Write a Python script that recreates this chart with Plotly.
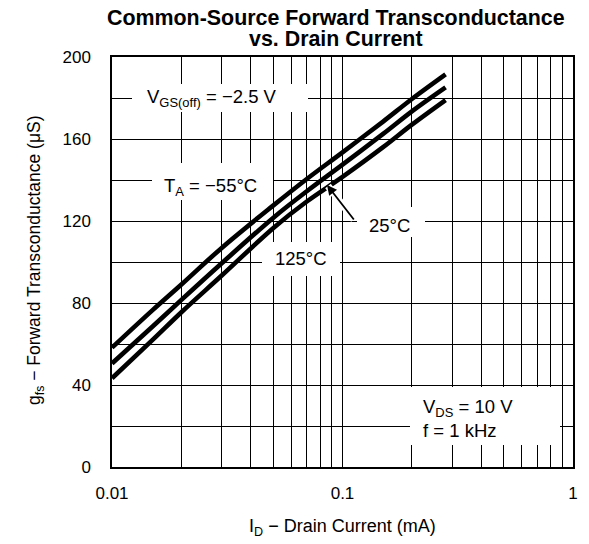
import plotly.graph_objects as go

# ---- data (I_D in mA, g_fs in uS) ----
id_ma = [0.01, 0.015, 0.02, 0.03, 0.05, 0.07, 0.1, 0.15, 0.2, 0.28]
gfs_m55 = [58.2, 76.5, 89.0, 107.0, 127.5, 140.5, 153.5, 168.5, 179.5, 191.5]
gfs_25 = [50.5, 68.5, 81.5, 99.5, 121.5, 134.5, 147.5, 162.5, 173.5, 185.2]
gfs_125 = [43.3, 62.0, 75.5, 93.5, 116.5, 129.5, 141.5, 156.0, 167.0, 179.0]

x_decades = [0.01, 0.1, 1]
x_tick_labels = ["0.01", "0.1", "1"]
y_grid = list(range(0, 201, 20))
y_tick_labels = [str(v) if v % 40 == 0 else "" for v in y_grid]

# ---- layout geometry ----
W, H = 589, 544
L, R, T, B = 112, 16, 57, 77
PW, PH = W - L - R, H - T - B
FONT = "Liberation Sans, Arial, sans-serif"


def px(xp):
    return (xp - L) / PW


def py(yp):
    return (T + PH - yp) / PH


# log grid positions (1..9 in each decade)
x_grid = []
x_text = []
for d, lab in zip(x_decades[:-1], x_tick_labels[:-1]):
    for k in range(1, 10):
        x_grid.append(d * k)
        x_text.append(lab if k == 1 else "")
x_grid.append(x_decades[-1])
x_text.append(x_tick_labels[-1])

fig = go.Figure()
for ys in [gfs_m55, gfs_25, gfs_125]:
    fig.add_trace(go.Scatter(
        x=id_ma, y=ys, mode="lines",
        line=dict(color="black", width=4.6, shape="spline", smoothing=1.0),
        showlegend=False, hoverinfo="skip"))

shapes = []


def box(x0, y0, x1, y1):
    shapes.append(dict(type="rect", xref="paper", yref="paper",
                       x0=px(x0), x1=px(x1), y0=py(y1), y1=py(y0),
                       fillcolor="white", line=dict(width=0), layer="above"))


box(132, 84, 308, 112)
box(152, 163, 273, 200)
box(357, 207, 425, 237)
box(262, 242, 340, 276)
box(410, 387, 560, 445)

annotations = []


def label(text, xp, yp, size=18.5, xanchor="left", bold=False):
    annotations.append(dict(
        text=("<b>%s</b>" % text) if bold else text,
        x=px(xp), y=py(yp), xref="paper", yref="paper",
        xanchor=xanchor, yanchor="middle", showarrow=False,
        font=dict(family=FONT, size=size, color="black")))


label("V<sub>GS(off)</sub> = −2.5 V", 145, 98)
label("T<sub>A</sub> = −55°C", 162, 187)
label("25°C", 389, 225, xanchor="center")
label("125°C", 301, 258, xanchor="center")
label("V<sub>DS</sub> = 10 V", 421, 408)
label("f = 1 kHz", 421, 430)

# titles
label("Common-Source Forward Transconductance", 336, 18, size=21.4, xanchor="center", bold=True)
label("vs. Drain Current", 336, 39, size=21.4, xanchor="center", bold=True)
label("I<sub>D</sub> − Drain Current (mA)", 342, 527, size=18, xanchor="center")
annotations.append(dict(
    text="g<sub>fs</sub> − Forward Transconductance (μS)",
    x=px(35), y=py(260), xref="paper", yref="paper",
    xanchor="center", yanchor="middle", showarrow=False, textangle=-90,
    font=dict(family=FONT, size=17.5, color="black")))

# arrow to the 25 °C curve: white halo (cuts the 125 °C curve) then black arrow
annotations.append(dict(
    text="", x=px(328), y=py(186), xref="paper", yref="paper",
    ax=27, ay=35, showarrow=True, arrowhead=0,
    arrowwidth=7, arrowcolor="white"))
annotations.append(dict(
    text="", x=px(327), y=py(185), xref="paper", yref="paper",
    ax=28, ay=36, showarrow=True, arrowhead=2, arrowsize=1.1,
    arrowwidth=1.8, arrowcolor="black"))

fig.update_layout(
    width=W, height=H,
    margin=dict(l=L, r=R, t=T, b=B, pad=0),
    paper_bgcolor="white", plot_bgcolor="white",
    shapes=shapes, annotations=annotations,
    xaxis=dict(type="log", range=[-2, 0], tickvals=x_grid, ticktext=x_text,
               showgrid=True, gridcolor="black", gridwidth=1,
               showline=True, linecolor="black", linewidth=1.5, mirror=True,
               ticks="", zeroline=False, ticklabelstandoff=10, automargin=False,
               tickfont=dict(family=FONT, size=17, color="black")),
    yaxis=dict(range=[0, 200], tickvals=y_grid, ticktext=y_tick_labels,
               showgrid=True, gridcolor="black", gridwidth=1,
               showline=True, linecolor="black", linewidth=1.5, mirror=True,
               ticks="", zeroline=False, ticklabelstandoff=16, automargin=False,
               tickfont=dict(family=FONT, size=17, color="black")),
)

fig.write_html("out.html", config={"displayModeBar": False},
               post_script="document.body.style.margin='0px';")
